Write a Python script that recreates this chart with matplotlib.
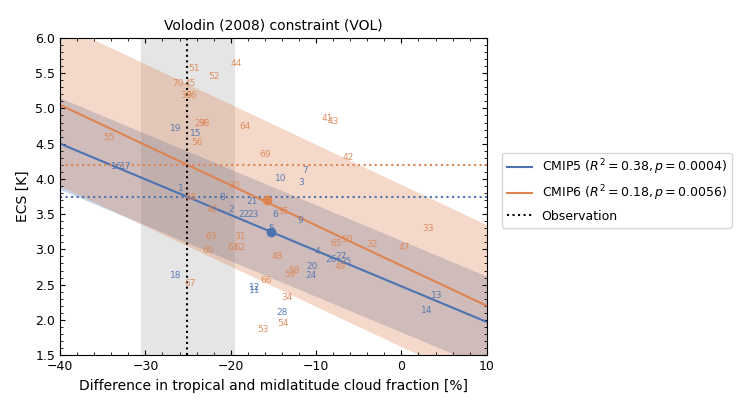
import numpy as np
import matplotlib
matplotlib.use("Agg")
import matplotlib.pyplot as plt

c5_ids = [1,2,3,4,5,6,7,8,9,10,11,12,13,14,15,16,17,18,19,20,21,22,23,24,25,26,27,28]
c5_x = [-25.9,-20.0,-11.8,-9.8,-15.3,-14.8,-11.3,-21.0,-11.9,-14.1,-17.2,-17.2,4.1,3.0,-24.1,-33.4,-32.3,-26.4,-26.5,-10.5,-17.5,-18.5,-17.4,-10.6,-6.5,-8.3,-7.1,-14.0]
c5_y = [3.87,3.56,3.95,2.97,3.30,3.49,4.12,3.73,3.41,4.0,2.42,2.46,2.34,2.14,4.64,4.17,4.17,2.63,4.71,2.76,3.68,3.50,3.50,2.63,2.83,2.86,2.90,2.11]
c6_ids = [29,30,31,32,33,34,35,36,38,39,40,41,42,43,44,45,47,48,49,50,51,52,53,54,55,56,58,59,60,61,62,63,64,65,66,67,68,69,70]
c6_x = [-23.6,-19.6,-18.9,-3.5,3.1,-13.4,-13.9,-24.7,-23.1,-25.2,-22.2,-8.7,-6.2,-8.0,-19.4,-24.8,0.3,-14.6,-7.2,-6.4,-24.3,-22.0,-16.2,-13.9,-34.3,-24.0,-12.6,-13.0,-22.6,-19.7,-18.9,-22.3,-18.3,-7.6,-15.8,-24.8,-24.7,-16.0,-26.2]
c6_y = [4.79,3.91,3.19,3.07,3.29,2.32,3.54,5.19,4.79,5.19,3.56,4.86,4.31,4.81,5.64,5.36,3.03,2.90,2.76,3.14,5.57,5.46,1.87,1.95,4.59,4.51,2.70,2.65,2.99,3.02,3.03,3.19,4.75,3.09,2.56,2.52,3.73,4.34,5.36]
c5_mean = [-15.3, 3.25]
c6_mean = [-15.8, 3.70]
obs_x = -25.1
obs_range = [-30.5, -19.5]
fit5 = [-0.0506, 2.476]   # slope, intercept
fit6 = [-0.0570, 2.770]
band5 = 0.65
band6 = 1.15

blue, orange = '#4c72b0', '#dd8452'
fig = plt.figure(figsize=(7.42, 4.04), dpi=100)
ax = fig.add_axes([0.081, 0.121, 0.575, 0.785])
xs = np.linspace(-40, 10, 200)
ax.axvspan(*obs_range, color='gray', alpha=0.2, lw=0)
for ids, x, y, m, fit, band, col, lab in [
        (c5_ids, c5_x, c5_y, c5_mean, fit5, band5, blue, r'CMIP5 ($R^2 = 0.38, p = 0.0004$)'),
        (c6_ids, c6_x, c6_y, c6_mean, fit6, band6, orange, r'CMIP6 ($R^2 = 0.18, p = 0.0056$)')]:
    line = fit[0]*xs + fit[1]
    ax.fill_between(xs, line-band, line+band, color=col, alpha=0.3, lw=0)
    ax.plot(xs, line, color=col, lw=1.5, label=lab)
    for i, xi, yi in zip(ids, x, y):
        ax.text(xi, yi, str(i), color=col, fontsize=6.5, ha='center', va='center', alpha=0.9)
    ax.plot(m[0], m[1], 'o', color=col, ms=6)
    ax.axhline(fit[0]*obs_x + fit[1], color=col, ls=':', lw=1.5)
ax.axvline(obs_x, color='black', ls=':', lw=1.5, label='Observation')
ax.set_xlim(-40, 10)
ax.set_ylim(1.5, 6.0)
ax.set_xticks([-40, -30, -20, -10, 0, 10])
ax.set_xticks(np.arange(-40, 10.1, 2), minor=True)
ax.set_yticks(np.arange(1.5, 6.01, 0.5))
ax.set_yticks(np.arange(1.5, 6.01, 0.1), minor=True)
ax.tick_params(which='both', direction='in', top=True, right=True, labelsize=9)
ax.set_xlabel('Difference in tropical and midlatitude cloud fraction [%]', fontsize=10)
ax.set_ylabel('ECS [K]', fontsize=10)
ax.set_title('Volodin (2008) constraint (VOL)', fontsize=10)
ax.legend(loc='center left', bbox_to_anchor=(1.02, 0.52), fontsize=9)
fig.savefig('out.png', dpi=100)
